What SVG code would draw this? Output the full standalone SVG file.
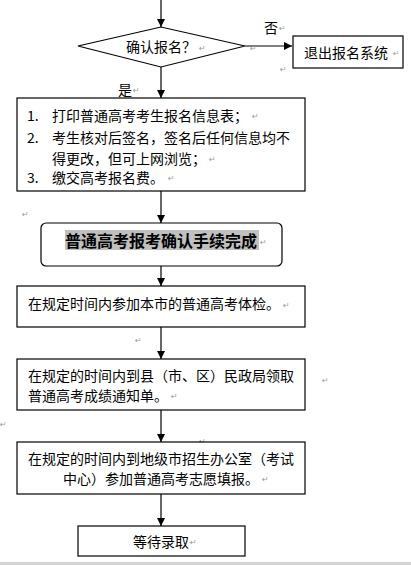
<svg xmlns="http://www.w3.org/2000/svg" width="411" height="565" viewBox="0 0 411 565">
<defs>
<marker id="ah" markerWidth="8" markerHeight="8" refX="8" refY="4" orient="auto" markerUnits="userSpaceOnUse">
<path d="M0,0 L8,4 L0,8 Z" fill="#000"/>
</marker>
<style>
.b{fill:#fff;stroke:#000;stroke-width:1.2}
.t{font-family:"Noto Sans CJK SC","Liberation Sans",sans-serif;font-size:14px;fill:#000;dominant-baseline:central}
.bold{font-weight:bold;font-size:16px}
.m{font-family:"DejaVu Sans",sans-serif;font-size:8px;fill:#999;dominant-baseline:central}
.c{stroke:#000;stroke-width:1.2;fill:none;marker-end:url(#ah)}
</style>
</defs>
<rect width="411" height="565" fill="#fff"/>
<rect x="0" y="562" width="411" height="3" fill="#d4d4d4"/>
<g id="connectors">
<line class="c" x1="161" y1="0" x2="161" y2="27"/>
<line class="c" x1="245" y1="46" x2="292" y2="46"/>
<line class="c" x1="161" y1="67" x2="161" y2="98"/>
<line class="c" x1="161" y1="191" x2="161" y2="223"/>
<line class="c" x1="161" y1="266" x2="161" y2="286"/>
<line class="c" x1="161" y1="327" x2="161" y2="359"/>
<line class="c" x1="161" y1="410" x2="161" y2="442"/>
<line class="c" x1="161" y1="494" x2="161" y2="526"/>
<text class="t" x="264" y="27">否</text><text class="m" x="279" y="28">↵</text>
<text class="t" x="118" y="89">是</text><text class="m" x="133" y="90">↵</text>
</g>
<g id="confirm">
<polygon class="b" points="78,46 161,27 245,46 161,67"/>
<text class="t" x="126" y="46">确认报名？</text><text class="m" x="199" y="48">↵</text>
<text class="m" x="250" y="48">↵</text>
</g>
<g id="exit">
<rect class="b" x="293" y="36" width="110" height="32"/>
<text class="t" x="304" y="52">退出报名系统</text><text class="m" x="393" y="53">↵</text>
<text class="m" x="280" y="69">↵</text>
</g>
<g id="steps">
<rect class="b" x="17" y="98" width="288" height="93"/>
<text class="t" x="27" y="115">1.</text><text class="t" x="52" y="115">打印普通高考考生报名信息表；</text><text class="m" x="252" y="116">↵</text>
<text class="t" x="27" y="137">2.</text><text class="t" x="52" y="137">考生核对后签名，签名后任何信息均不</text>
<text class="t" x="52" y="158">得更改，但可上网浏览；</text><text class="m" x="209" y="159">↵</text>
<text class="t" x="27" y="177">3.</text><text class="t" x="52" y="177">缴交高考报名费。</text><text class="m" x="168" y="178">↵</text>
</g>
<g id="done">
<text class="m" x="22" y="214">↵</text>
<rect class="b" x="41" y="223" width="241" height="43" rx="5"/>
<rect x="65" y="230" width="194" height="20" fill="#c0c0c0"/>
<text class="t bold" x="65" y="240">普通高考报考确认手续完成</text><text class="m" x="260" y="242">↵</text>
</g>
<g id="physical">
<rect class="b" x="17" y="286" width="288" height="41"/>
<text class="t" x="28" y="303">在规定时间内参加本市的普通高考体检。</text><text class="m" x="283" y="305">↵</text>
<text class="m" x="135" y="340">↵</text>
</g>
<g id="score">
<rect class="b" x="17" y="359" width="288" height="51"/>
<text class="t" x="28" y="375">在规定的时间内到县（市、区）民政局领取</text>
<text class="t" x="28" y="395">普通高考成绩通知单。</text><text class="m" x="171" y="396">↵</text>
<text class="m" x="322" y="380">↵</text>
</g>
<g id="volunteer">
<text class="m" x="0" y="424">↵</text>
<text class="m" x="199" y="441">↵</text>
<rect class="b" x="17" y="442" width="288" height="52"/>
<text class="t" x="28" y="458">在规定的时间内到地级市招生办公室（考试</text>
<text class="t" x="63" y="478">中心）参加普通高考志愿填报。</text><text class="m" x="262" y="479">↵</text>
</g>
<g id="wait">
<rect class="b" x="78" y="526" width="167" height="30"/>
<text class="t" x="133" y="541">等待录取</text><text class="m" x="190" y="542">↵</text>
</g>
</svg>
